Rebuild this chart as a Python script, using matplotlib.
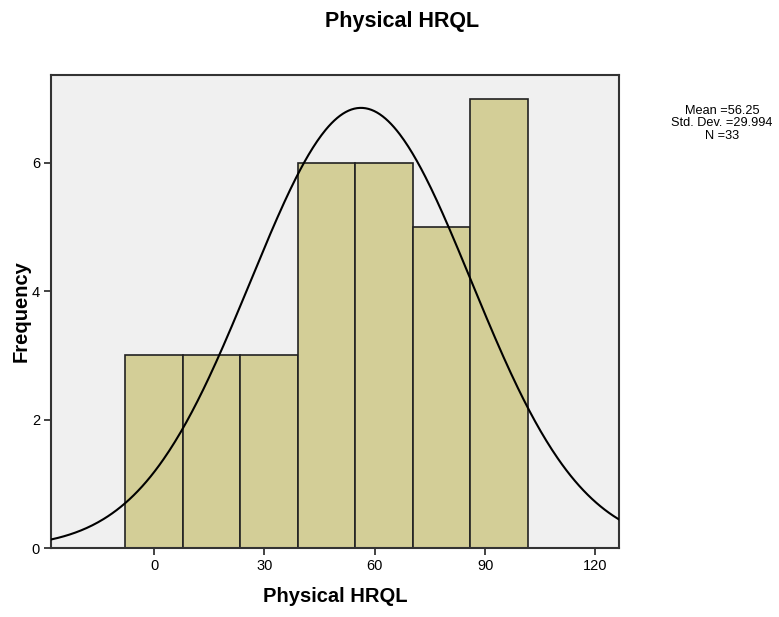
import numpy as np
import matplotlib
matplotlib.use("Agg")
import matplotlib.pyplot as plt

plt.rcParams['font.family'] = ['Liberation Sans', 'DejaVu Sans']

# histogram bins (centres) and counts
bin_centers = [0.0, 15.625, 31.25, 46.875, 62.5, 78.125, 93.75]
counts = [3, 3, 3, 6, 6, 5, 7]
bin_width = 15.625

# summary statistics for the normal curve
mean = 56.25
std = 29.994
n = 33

fig = plt.figure(figsize=(7.79, 6.17), dpi=100)
ax = fig.add_axes([0.0655, 0.1118, 0.7291, 0.7666])
ax.set_facecolor('#f0f0f0')

ax.bar(bin_centers, counts, width=bin_width, color='#d3ce97',
       edgecolor='#222222', linewidth=1.2, zorder=2)

xs = np.linspace(-28, 126.4, 400)
ys = n * bin_width / (std * np.sqrt(2 * np.pi)) * np.exp(-0.5 * ((xs - mean) / std) ** 2)
ax.plot(xs, ys, color='black', linewidth=1.5, zorder=3)

ax.set_xlim(-28, 126.4)
ax.set_ylim(0, 7.37)
ax.set_xticks([0, 30, 60, 90, 120])
ax.set_yticks([0, 2, 4, 6])
ax.tick_params(direction='out', length=5, width=1.2, labelsize=10.5, color='#222222', pad=3)
for s in ax.spines.values():
    s.set_color('#333333')
    s.set_linewidth(1.5)

ax.set_xlabel('Physical HRQL', fontsize=14.5, fontweight='bold', labelpad=10)
ax.set_ylabel('Frequency', fontsize=14.5, fontweight='bold', labelpad=1)

fig.text(0.516, 0.965, 'Physical HRQL', ha='center', va='center',
         fontsize=15.5, fontweight='bold')
fig.text(0.927, 0.8, 'Mean =56.25\nStd. Dev. =29.994\nN =33', ha='center', va='center',
         fontsize=9.2, linespacing=1.05)

fig.savefig('out.png', dpi=100)
